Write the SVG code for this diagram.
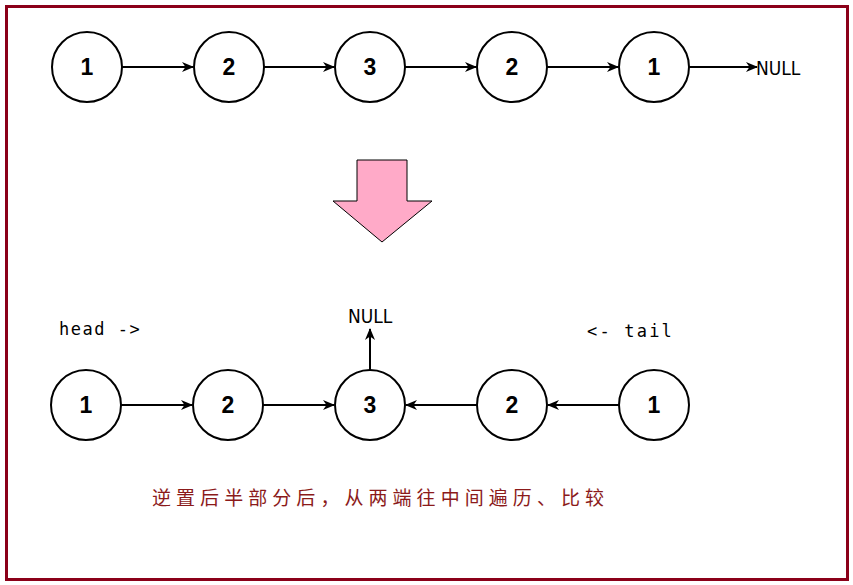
<svg xmlns="http://www.w3.org/2000/svg" width="853" height="585" viewBox="0 0 853 585">
<defs>
<marker id="ah" viewBox="0 0 12 10" refX="11" refY="5" markerWidth="12" markerHeight="10" markerUnits="userSpaceOnUse" orient="auto">
<path d="M0,0 L12,5 L0,10 L3.5,5 Z" fill="#000"/>
</marker>
<style>
.n circle{fill:#fff;stroke:#000;stroke-width:2}
.n text{font-family:"Liberation Sans",Arial,sans-serif;font-weight:bold;font-size:23px;text-anchor:middle;fill:#000}
.c{stroke:#000;stroke-width:2;fill:none;marker-end:url(#ah)}
.mono{font-family:"DejaVu Sans Mono","Liberation Mono",monospace;font-size:17px;fill:#000}
.null{font-family:'Liberation Sans Narrow','DejaVu Sans Condensed',sans-serif;font-size:19px;fill:#000}
</style>
</defs>
<rect width="853" height="585" fill="#fff"/>
<rect x="6.5" y="6.5" width="841" height="573" fill="none" stroke="#8B0019" stroke-width="3"/>
<g id="top-1" class="n"><circle cx="87" cy="67" r="35"/><text x="87" y="75">1</text></g>
<g id="top-2" class="n"><circle cx="229" cy="67" r="35"/><text x="229" y="75">2</text></g>
<g id="top-3" class="n"><circle cx="370" cy="67" r="35"/><text x="370" y="75">3</text></g>
<g id="top-4" class="n"><circle cx="512" cy="67" r="35"/><text x="512" y="75">2</text></g>
<g id="top-5" class="n"><circle cx="654" cy="67" r="35"/><text x="654" y="75">1</text></g>
<g id="top-null"><text class="null" x="756" y="75">NULL</text></g>
<g id="arrow-big"><polygon points="357,160 407,160 407,201 432,201 382,242 333,201 357,201" fill="#FFAAC8" stroke="#000" stroke-width="1"/></g>
<g id="bot-1" class="n"><circle cx="86" cy="405" r="35"/><text x="86" y="413">1</text></g>
<g id="bot-2" class="n"><circle cx="228" cy="405" r="35"/><text x="228" y="413">2</text></g>
<g id="bot-3" class="n"><circle cx="370" cy="405" r="35"/><text x="370" y="413">3</text></g>
<g id="bot-4" class="n"><circle cx="512" cy="405" r="35"/><text x="512" y="413">2</text></g>
<g id="bot-5" class="n"><circle cx="654" cy="405" r="35"/><text x="654" y="413">1</text></g>
<g id="bot-null"><text class="null" x="348" y="323">NULL</text></g>
<g id="label-head"><text class="mono" x="59" y="335" font-size="18" letter-spacing="1.5">head -&gt;</text></g>
<g id="label-tail"><text class="mono" x="587" y="337" letter-spacing="2.2">&lt;- tail</text></g>
<g id="caption"><text x="152" y="505" font-family="'Noto Sans CJK SC',sans-serif" font-size="19" fill="#8B1A1A" textLength="452" lengthAdjust="spacing">逆置后半部分后，从两端往中间遍历、比较</text></g>
<g id="connectors">
<line class="c" x1="122" y1="67" x2="193" y2="67"/>
<line class="c" x1="264" y1="67" x2="334" y2="67"/>
<line class="c" x1="405" y1="67" x2="476" y2="67"/>
<line class="c" x1="547" y1="67" x2="618" y2="67"/>
<line class="c" x1="689" y1="67" x2="757" y2="67"/>
<line class="c" x1="121" y1="405" x2="192" y2="405"/>
<line class="c" x1="263" y1="405" x2="334" y2="405"/>
<line class="c" x1="477" y1="405" x2="406" y2="405"/>
<line class="c" x1="619" y1="405" x2="548" y2="405"/>
<line class="c" x1="370" y1="370" x2="370" y2="329"/>
</g>
</svg>
